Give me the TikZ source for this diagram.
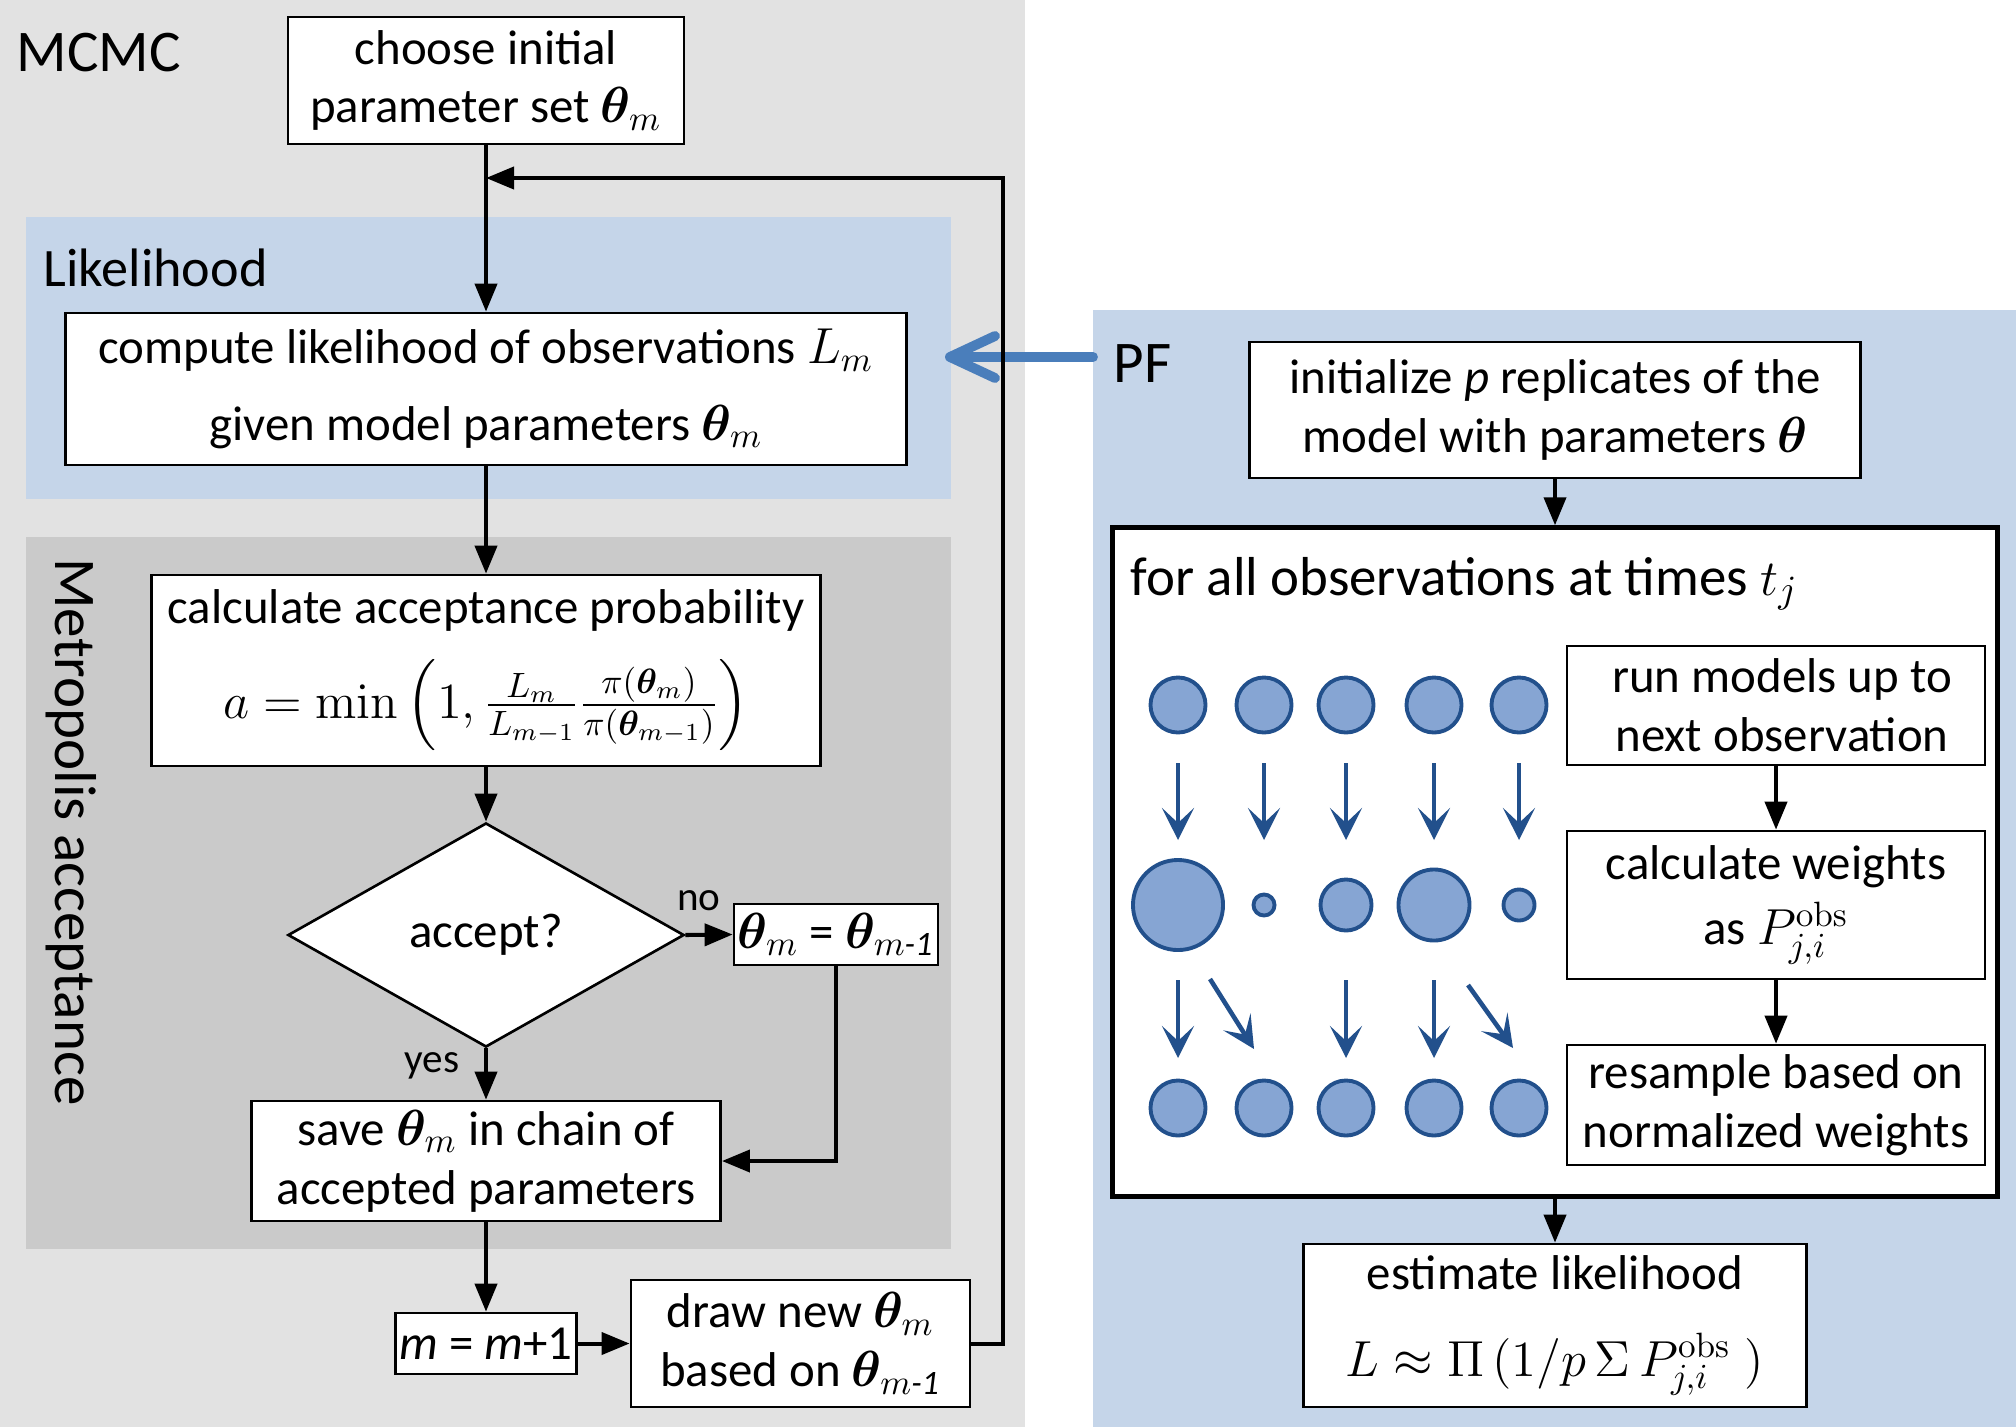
\documentclass[tikz,border=0pt]{standalone}
\usepackage{amsmath}
\usepackage{bm}
\usepackage[no-math]{fontspec}
\setmainfont{Carlito}
\usetikzlibrary{arrows.meta,shapes.geometric}

\definecolor{panelgray}{HTML}{E2E2E2}
\definecolor{metgray}{HTML}{CACACA}
\definecolor{panelblue}{HTML}{C5D5E9}
\definecolor{pfblue}{HTML}{4A7EBB}
\definecolor{pfill}{HTML}{86A5D3}
\definecolor{pdark}{HTML}{22508C}

\newcommand{\fsmain}{\fontsize{13.9pt}{16.7pt}\selectfont}
\newcommand{\fslab}{\fontsize{16.8pt}{20pt}\selectfont}
\newcommand{\fslik}{\fontsize{15.4pt}{18pt}\selectfont}
\newcommand{\fsfor}{\fontsize{15.6pt}{18pt}\selectfont}
\newcommand{\fssmall}{\fontsize{11.7pt}{14pt}\selectfont}

\tikzset{
  box/.style={draw=black, line width=0.75pt, fill=white, align=center, inner sep=0pt, font=\fsmain},
  flow/.style={line width=1.15pt, -{Triangle[length=0.28cm,width=0.22cm]}},
  particle/.style={circle, draw=pdark, line width=1.1pt, fill=pfill, inner sep=0pt},
  parr/.style={line width=1.3pt, draw=pdark, -{Stealth[length=0.32cm,width=0.32cm,inset=0.15cm]}, color=pdark},
  pfarrow/.style={line width=2.8pt, draw=pfblue, line cap=round, line join=round},
  lab/.style={inner sep=0pt, font=\fslab},
}

\begin{document}
\begin{tikzpicture}[x=0.01cm, y=-0.01cm]
\useasboundingbox (0,0) rectangle (2016,1427);

% backgrounds
\fill[white] (0,0) rectangle (2016,1427);
\fill[panelgray] (0,0) rectangle (1025,1427);
\fill[panelblue] (1093,310) rectangle (2016,1427);
\fill[panelblue] (26,217) rectangle (951,499);
\fill[metgray] (26,537) rectangle (951,1249);

% region labels
\node[lab, anchor=base west] (mcmc) at (16,71) {MCMC};
\node[inner sep=0pt, font=\fslik, anchor=base west] (lik) at (43,286) {Likelihood};
\node[lab, rotate=-90] (metro) at (71,832) {Metropolis acceptance};
\node[lab, anchor=base west] (pf) at (1113,382) {PF};

% MCMC nodes
\node[box, minimum width=3.96cm, minimum height=1.27cm] (init) at (486,80.5) {choose initial\\parameter set $\bm{\theta}_m$};
\node[box, minimum width=8.40cm, minimum height=1.52cm] (compute) at (486,389) {compute likelihood of observations $L_m$\\[5pt]given model parameters $\bm{\theta}_m$};
\node[box, minimum width=6.69cm, minimum height=1.91cm] (calc) at (486,670.5) {calculate acceptance probability\\[7pt]$a=\min\left(1,\tfrac{L_m}{L_{m-1}}\tfrac{\pi(\bm{\theta}_m)}{\pi(\bm{\theta}_{m-1})}\right)$};
\node[diamond, draw=black, line width=0.75pt, fill=white, minimum width=3.96cm, minimum height=2.24cm, inner sep=0pt, font=\fsmain] (acc) at (486,935) {accept?};
\node[box, minimum width=2.04cm, minimum height=0.61cm] (thetabox) at (836,934.5) {$\bm{\theta}_m$ = $\bm{\theta}_{m\textit{-1}}$};
\node[box, minimum width=4.69cm, minimum height=1.20cm] (save) at (486,1161) {save $\bm{\theta}_m$ in chain of\\accepted parameters};
\node[box, minimum width=1.81cm, minimum height=0.61cm] (mbox) at (486,1343.5) {\textit{m} = \textit{m}+1};
\node[box, minimum width=3.39cm, minimum height=1.27cm] (drawnew) at (800.5,1343.5) {draw new $\bm{\theta}_m$\\based on $\bm{\theta}_{m\textit{-1}}$};

\node[inner sep=0pt, font=\fssmall] (nolab) at (699,901) {no};
\node[inner sep=0pt, font=\fssmall] (yeslab) at (432,1066) {yes};

% PF arrow (behind the loop line)
\coordinate (pfstart) at (1093,357);
\coordinate (pftip) at (950,357);
\draw[pfarrow] (pfstart) -- (pftip);
\draw[pfarrow] ([shift={(45,-21)}]pftip) -- (pftip) -- ([shift={(45,21)}]pftip);

% MCMC connectors
\coordinate (junc) at (486,178);
\coordinate (loopcorner) at (1003,178);
\draw[flow] (init.south) -- (compute.north);
\draw[flow] (compute.south) -- (calc.north);
\draw[flow] (calc.south) -- (acc.north);
\draw[flow] (acc.east) -- (thetabox.west);
\draw[flow] (thetabox.south) |- (save.east);
\draw[flow] (acc.south) -- (save.north);
\draw[flow] (save.south) -- (mbox.north);
\draw[flow] (mbox.east) -- (mbox.east -| drawnew.west);
\draw[flow] (drawnew.east) -| (loopcorner) -- (junc);

% PF nodes
\node[box, minimum width=6.11cm, minimum height=1.36cm] (pfinit) at (1555,410) {initialize \textit{p} replicates of the\\model with parameters $\bm{\theta}$};
\node[draw=black, line width=1.45pt, fill=white, minimum width=8.84cm, minimum height=6.68cm, inner sep=0pt] (loop) at (1555,862) {};
\node[inner sep=0pt, font=\fsfor, anchor=base west] (forall) at (1130,595) {for all observations at times $t_j$};
\node[box, minimum width=4.18cm, minimum height=1.19cm] (run) at (1776,705.5) {\hspace*{0.12cm}run models up to\\\hspace*{0.12cm}next observation};
\node[box, minimum width=4.18cm, minimum height=1.48cm] (calcw) at (1776,905) {calculate weights\\[2pt]as $P^{\mathrm{obs}}_{j,i}$};
\node[box, minimum width=4.18cm, minimum height=1.20cm] (resample) at (1776,1105) {resample based on\\normalized weights};
\node[box, minimum width=5.03cm, minimum height=1.63cm] (estimate) at (1555,1325.5) {estimate likelihood\\[8pt]$L \approx \Pi\,(1/p\,\Sigma\,P^{\mathrm{obs}}_{j,i}\;)$};

\draw[flow] (pfinit.south) -- (loop.north);
\draw[flow] (run.south) -- (calcw.north);
\draw[flow] (calcw.south) -- (resample.north);
\draw[flow] (loop.south) -- (estimate.north);

% particles
\foreach \i/\x in {1/1178,2/1264,3/1346,4/1434,5/1519}{
  \node[particle, minimum size=0.55cm] (pa\i) at (\x,705) {};
  \node[particle, minimum size=0.55cm] (pc\i) at (\x,1108) {};
  \draw[parr] (\x,763) -- (\x,840);
}
\node[particle, minimum size=0.90cm] (pb1) at (1178,905) {};
\node[particle, minimum size=0.21cm] (pb2) at (1264,905) {};
\node[particle, minimum size=0.51cm] (pb3) at (1346,905) {};
\node[particle, minimum size=0.71cm] (pb4) at (1434,905) {};
\node[particle, minimum size=0.31cm] (pb5) at (1519,905) {};

\foreach \x in {1178,1346,1434}{
  \draw[parr] (\x,980) -- (\x,1058);
}
\draw[parr] (1210,979) -- (1254,1049);
\draw[parr] (1468,985) -- (1513,1048);

\end{tikzpicture}
\end{document}
